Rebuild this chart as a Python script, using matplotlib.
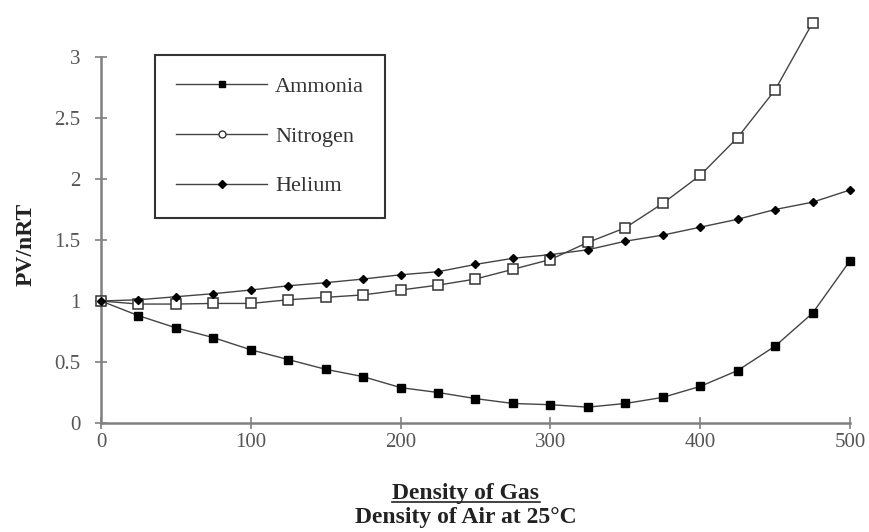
import matplotlib
matplotlib.use("Agg")
import matplotlib.pyplot as plt
from matplotlib.lines import Line2D

x = [0, 25, 50, 75, 100, 125, 150, 175, 200, 225, 250, 275, 300, 325, 350, 375, 400, 425, 450, 475, 500]
ammonia = [1.0, 0.88, 0.78, 0.70, 0.60, 0.52, 0.44, 0.38, 0.29, 0.25, 0.20, 0.16, 0.15, 0.13, 0.16, 0.21, 0.30, 0.43, 0.63, 0.90, 1.33]
x_n = x[:-1]
nitrogen = [1.0, 0.975, 0.975, 0.98, 0.98, 1.01, 1.03, 1.05, 1.09, 1.13, 1.18, 1.26, 1.34, 1.48, 1.60, 1.80, 2.03, 2.34, 2.73, 3.28]
helium = [1.0, 1.01, 1.035, 1.06, 1.09, 1.125, 1.15, 1.18, 1.215, 1.24, 1.30, 1.35, 1.38, 1.42, 1.49, 1.54, 1.605, 1.67, 1.75, 1.81, 1.91]

xticks = [0, 100, 200, 300, 400, 500]
yticks = [0, 0.5, 1, 1.5, 2, 2.5, 3]
yticklabels = ["0", "0.5", "1", "1.5", "2", "2.5", "3"]

plt.rcParams['font.family'] = ['Liberation Serif', 'DejaVu Serif']

fig = plt.figure(figsize=(8.7, 5.32), dpi=100)
ax = fig.add_axes([101/870, 1-423/532, (850-101)/870, (423-57)/532])

lc = '#444444'
ax.plot(x, ammonia, color=lc, lw=1.0, marker='s', ms=5.2, mfc='black', mec='black', label='Ammonia', clip_on=False, zorder=3)
ax.plot(x_n, nitrogen, color=lc, lw=1.0, marker='s', ms=7.2, mfc='white', mec='#333333', mew=1.1, label='Nitrogen', clip_on=False, zorder=3)
ax.plot(x, helium, color=lc, lw=1.0, marker='D', ms=4.2, mfc='black', mec='black', label='Helium', clip_on=False, zorder=3)

ax.set_xlim(0, 500)
ax.set_ylim(0, 3)
for s in ['top', 'right']:
    ax.spines[s].set_visible(False)
for s in ['left', 'bottom']:
    ax.spines[s].set_color('#808080')
    ax.spines[s].set_linewidth(1.8)
ax.set_xticks(xticks)
ax.set_xticklabels([str(t) for t in xticks])
ax.set_yticks(yticks)
ax.set_yticklabels(yticklabels)
ax.tick_params(direction='inout', length=8, width=1.2, color='#808080', labelsize=15, labelcolor='#555555')
ax.tick_params(axis='x', pad=3)
ax.tick_params(axis='y', pad=11)

handles = [
    Line2D([], [], color=lc, lw=1.0, marker='s', ms=4, mfc='black', mec='black'),
    Line2D([], [], color=lc, lw=1.0, marker='o', ms=5, mfc='white', mec='#333333'),
    Line2D([], [], color=lc, lw=1.0, marker='D', ms=4, mfc='black', mec='black'),
]
leg = ax.legend(handles, ['Ammonia', 'Nitrogen', 'Helium'], loc='upper left',
                bbox_to_anchor=((155-101)/749, (423-55)/366), fancybox=False,
                framealpha=1, edgecolor='#333333', fontsize=16, handlelength=4.1,
                labelspacing=1.32, borderpad=0.95, handletextpad=0.35, borderaxespad=0)
leg.get_frame().set_linewidth(1.5)
for t in leg.get_texts():
    t.set_color('#333333')

fig.text(26/870, 1-244/532, 'PV/nRT', rotation=90, ha='center', va='center', fontsize=17, fontweight='bold', color='#222222')

t1 = fig.text(466/870, 1-494/532, 'Density of Gas', ha='center', va='center', fontsize=17, fontweight='bold', color='#222222')
fig.text(466/870, 1-517/532, 'Density of Air at 25°C', ha='center', va='center', fontsize=17, fontweight='bold', color='#222222')

fig.canvas.draw()
bb = t1.get_window_extent(renderer=fig.canvas.get_renderer())
fx0, fx1 = bb.x0 / fig.bbox.width, bb.x1 / fig.bbox.width
fy = (bb.y0 + 3) / fig.bbox.height
fig.add_artist(Line2D([fx0, fx1], [fy, fy], color='#222222', lw=1.2, transform=fig.transFigure))

fig.savefig('out.png', dpi=100, facecolor='white')
